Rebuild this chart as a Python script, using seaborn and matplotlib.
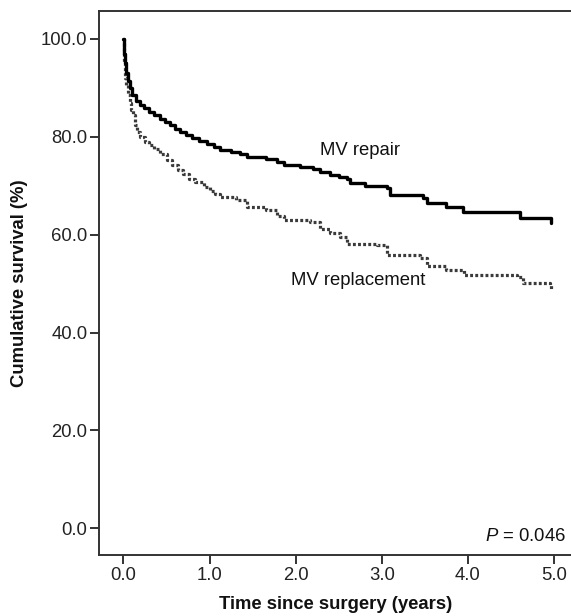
import matplotlib
matplotlib.use("Agg")
import matplotlib.pyplot as plt
import seaborn as sns
import pandas as pd

# ---- data ----
repair_time = [0.00, 0.01, 0.02, 0.03, 0.05, 0.07, 0.10, 0.14, 0.19, 0.24, 0.30, 0.35,
               0.42, 0.48, 0.54, 0.60, 0.66, 0.73, 0.80, 0.88, 0.97, 1.05, 1.12, 1.25,
               1.35, 1.43, 1.66, 1.78, 1.86, 2.05, 2.20, 2.28, 2.40, 2.50, 2.59, 2.63,
               2.80, 3.06, 3.10, 3.48, 3.52, 3.75, 3.94, 4.60, 4.97]
repair_surv = [100.0, 97.0, 95.0, 93.0, 91.5, 90.0, 88.5, 87.3, 86.5, 85.8, 85.0, 84.4,
               83.6, 83.0, 82.4, 81.7, 81.0, 80.3, 79.7, 79.2, 78.6, 77.9, 77.3, 76.9,
               76.5, 75.9, 75.4, 74.8, 74.2, 73.8, 73.4, 72.8, 72.3, 71.8, 71.3, 70.5,
               70.0, 69.5, 68.1, 67.4, 66.5, 65.7, 64.7, 63.5, 62.3]

repl_time = [0.00, 0.01, 0.02, 0.03, 0.05, 0.07, 0.09, 0.11, 0.13, 0.16, 0.19, 0.25,
             0.30, 0.35, 0.42, 0.50, 0.56, 0.63, 0.69, 0.76, 0.83, 0.93, 1.00, 1.06,
             1.12, 1.31, 1.43, 1.66, 1.78, 1.86, 2.17, 2.28, 2.40, 2.51, 2.59, 2.94,
             3.06, 3.44, 3.52, 3.75, 3.95, 4.57, 4.64, 4.95, 4.97]
repl_surv = [100.0, 95.0, 92.0, 90.5, 88.5, 87.0, 85.5, 84.5, 82.5, 81.0, 80.0, 79.0,
             78.3, 77.5, 76.4, 75.3, 74.3, 73.3, 72.4, 71.4, 70.7, 69.8, 69.0, 68.3,
             67.8, 67.1, 65.6, 65.0, 63.8, 63.0, 62.5, 61.1, 60.3, 59.5, 58.2, 57.9,
             55.9, 55.3, 53.6, 52.8, 51.8, 51.3, 50.2, 49.7, 48.7]

x_ticks = [0.0, 1.0, 2.0, 3.0, 4.0, 5.0]
y_ticks = [0.0, 20.0, 40.0, 60.0, 80.0, 100.0]
x_label = "Time since surgery (years)"
y_label = "Cumulative survival (%)"
label_repair = "MV repair"
label_repl = "MV replacement"
p_text = r"$P$ = 0.046"

# ---- styling ----
sns.set_style("white")
plt.rcParams["font.family"] = ["Liberation Sans", "DejaVu Sans"]
plt.rcParams["mathtext.fontset"] = "custom"
plt.rcParams["mathtext.it"] = "Liberation Sans:italic"
plt.rcParams["mathtext.rm"] = "Liberation Sans"

FS = 13.3

fig = plt.figure(figsize=(5.71, 6.16), dpi=100)
ax = fig.add_axes([0.1739, 0.099, 1.0 - 0.1739, 0.982 - 0.099])

df_rep = pd.DataFrame({"t": repair_time, "s": repair_surv})
df_rpl = pd.DataFrame({"t": repl_time, "s": repl_surv})

sns.lineplot(data=df_rpl, x="t", y="s", ax=ax, estimator=None, sort=False,
             drawstyle="steps-post", color="#3a3a3a", linewidth=2.3,
             linestyle=(0, (0.9, 0.7)), dash_capstyle="butt")
sns.lineplot(data=df_rep, x="t", y="s", ax=ax, estimator=None, sort=False,
             drawstyle="steps-post", color="black", linewidth=2.4)

ax.set_xlim(-0.281, 5.197)
ax.set_ylim(-5.46, 105.7)
ax.set_xticks(x_ticks)
ax.set_xticklabels([f"{v:.1f}" for v in x_ticks])
ax.set_yticks(y_ticks)
ax.set_yticklabels([f"{v:.1f}" for v in y_ticks])

for side in ["left", "bottom", "top"]:
    ax.spines[side].set_color("#333333")
    ax.spines[side].set_linewidth(1.4)
ax.spines["right"].set_visible(False)

ax.tick_params(axis="both", direction="out", length=6.5, width=1.4,
               color="#333333", labelsize=FS, pad=2.0, labelcolor="#222222",
               bottom=True, left=True)

ax.set_xlabel(x_label, fontsize=FS, fontweight="bold", labelpad=9, color="#111111")
ax.set_ylabel(y_label, fontsize=FS, fontweight="bold", labelpad=9, color="#111111")

ax.text(2.28, 77.3, label_repair, fontsize=FS, ha="left", va="center", color="#111111")
ax.text(1.95, 50.7, label_repl, fontsize=FS, ha="left", va="center", color="#111111")
ax.text(5.14, -1.7, p_text, fontsize=FS, ha="right", va="center", color="#111111")

fig.savefig("out.png", dpi=100)
